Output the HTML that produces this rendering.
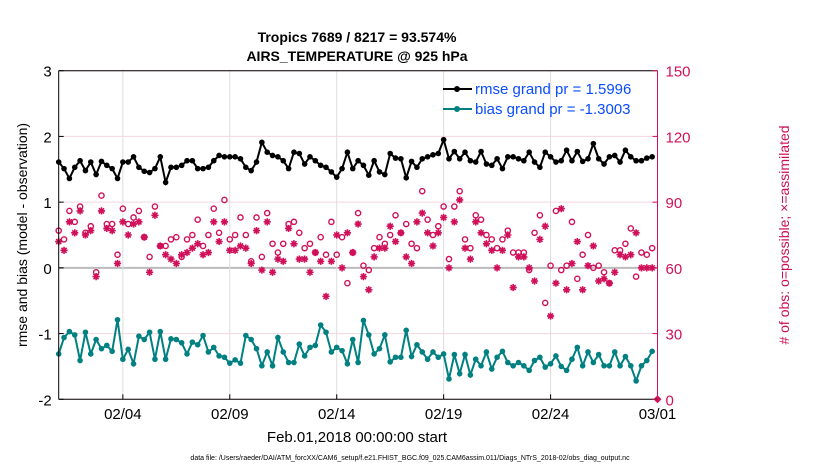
<!DOCTYPE html>
<html><head><meta charset="utf-8"><style>
body{margin:0;background:#fff;width:830px;height:470px;overflow:hidden}
svg text{font-family:"Liberation Sans",Arial,sans-serif}
</style></head><body>
<svg id="chart" width="830" height="470" xmlns="http://www.w3.org/2000/svg">
<g id="grid"></g>
<g id="marks"></g>
<g id="axes"></g>
<text x="357" y="42" font-size="14" font-weight="bold" text-anchor="middle">Tropics 7689 / 8217 = 93.574%</text>
<text x="357" y="61" font-size="14" font-weight="bold" text-anchor="middle">AIRS_TEMPERATURE @ 925 hPa</text>
<text transform="translate(27,235) rotate(-90)" font-size="14" text-anchor="middle">rmse and bias (model - observation)</text>
<text transform="translate(789,235) rotate(-90)" font-size="14" fill="#cc0f55" text-anchor="middle"># of obs: o=possible; ×=assimilated</text>
<text x="357" y="442" font-size="15" text-anchor="middle">Feb.01,2018 00:00:00 start</text>
<text x="410" y="460" font-size="7" text-anchor="middle">data file: /Users/raeder/DAI/ATM_forcXX/CAM6_setup/f.e21.FHIST_BGC.f09_025.CAM6assim.011/Diags_NTrS_2018-02/obs_diag_output.nc</text>
<g>
<line x1="443" y1="89" x2="472" y2="89" stroke="#000" stroke-width="2"/><circle cx="457" cy="89" r="3" fill="#000"/>
<text x="475" y="94" font-size="15" fill="#0a4cff">rmse grand pr = 1.5996</text>
<line x1="443" y1="109" x2="472" y2="109" stroke="#008080" stroke-width="2"/><circle cx="457" cy="109" r="3" fill="#008080"/>
<text x="475" y="114" font-size="15" fill="#0a4cff">bias grand pr = -1.3003</text>
</g>
</svg>
<script>
const rmse=[1.61,1.51,1.36,1.53,1.63,1.48,1.61,1.42,1.62,1.56,1.51,1.36,1.61,1.61,1.69,1.53,1.47,1.45,1.51,1.69,1.30,1.53,1.53,1.56,1.63,1.63,1.51,1.51,1.53,
1.63,1.71,1.69,1.69,1.69,1.66,1.53,1.48,1.61,1.91,1.76,1.71,1.69,1.63,1.51,1.76,1.74,1.58,1.69,1.63,1.56,1.53,1.46,1.38,1.51,1.76,1.51,
1.63,1.56,1.41,1.63,1.46,1.42,1.74,1.67,1.66,1.37,1.62,1.53,1.66,1.69,1.72,1.74,1.95,1.66,1.77,1.66,1.76,1.63,1.61,1.77,1.58,1.56,1.66,1.51,
1.69,1.69,1.66,1.63,1.76,1.61,1.53,1.76,1.69,1.61,1.63,1.79,1.63,1.77,1.62,1.66,1.89,1.66,1.58,1.69,1.71,1.61,1.79,1.69,1.63,1.63,1.67,1.69];
const bias=[-1.31,-1.06,-0.97,-1.02,-1.41,-0.98,-1.31,-1.09,-1.23,-1.18,-1.27,-0.79,-1.39,-1.24,-1.46,-1.04,-1.09,-0.98,-1.39,-0.97,-1.39,-1.08,-1.09,-1.14,-1.31,-1.13,-1.17,-1.03,-1.28,
-1.21,-1.34,-1.36,-1.45,-1.40,-1.45,-1.03,-1.09,-1.23,-1.49,-1.28,-1.49,-1.06,-1.28,-1.44,-1.44,-1.16,-1.34,-1.21,-1.18,-0.87,-0.98,-1.28,-1.21,-1.26,-1.46,-1.09,
-1.44,-0.80,-1.02,-1.31,-1.23,-1.02,-1.43,-1.36,-1.36,-0.95,-1.35,-1.17,-1.28,-1.39,-1.28,-1.36,-1.31,-1.69,-1.32,-1.61,-1.32,-1.63,-1.39,-1.49,-1.28,-1.54,-1.36,-1.27,
-1.44,-1.49,-1.44,-1.49,-1.56,-1.41,-1.36,-1.51,-1.46,-1.34,-1.50,-1.56,-1.39,-1.21,-1.49,-1.28,-1.44,-1.32,-1.49,-1.49,-1.28,-1.49,-1.35,-1.49,-1.72,-1.49,-1.41,-1.27];
const obsPossible=[77,73,86,81,88,76,79,58,93,80,80,66,87,80,83,86,74,65,88,70,70,73,74,65,73,75,82,70,75,
87,76,91,73,75,83,75,63,83,65,85,71,67,71,80,81,76,69,71,67,74,66,81,66,74,53,67,
85,61,59,69,74,71,75,84,76,80,71,69,95,82,75,79,88,64,88,95,73,69,84,82,75,73,69,73,
77,67,67,67,59,76,84,44,61,86,59,61,81,55,66,75,60,61,58,53,68,68,71,78,56,67,66,69];
const obsAssim=[72,68,81,76,86,75,77,56,86,78,77,62,81,75,80,81,74,58,84,70,66,64,62,66,67,69,71,66,67,
81,72,81,68,68,70,69,62,77,59,81,58,64,63,78,71,64,64,58,67,63,47,63,75,60,76,67,
80,56,50,65,69,69,79,72,76,65,62,81,85,76,70,76,83,60,81,91,69,64,81,76,71,68,60,68,
75,51,65,65,60,54,73,79,38,53,87,50,62,72,50,61,70,54,55,53,58,66,65,66,76,60,60,60];
const xTickDays=[3,8,13,18,23,28];
const xTickLabels=["02/04","02/09","02/14","02/19","02/24","03/01"];
const yTicks=[-2,-1,0,1,2,3];
const yRightTicks=[0,30,60,90,120,150];

const NS="http://www.w3.org/2000/svg";
const L=58.7,R=657.5,T=70.7,B=399.3;
const xDay=d=>L+(R-L)*d/28;
const xIdx=i=>xDay(i*0.25);
const yL=v=>B-(v+2)/5*(B-T);
const yR=c=>B-c/150*(B-T);
function mk(tag,attrs,parent){const e=document.createElementNS(NS,tag);for(const k in attrs)e.setAttribute(k,attrs[k]);parent.appendChild(e);return e;}
const grid=document.getElementById('grid'),marks=document.getElementById('marks'),axes=document.getElementById('axes');
yTicks.forEach(v=>{const l=mk('line',{x1:L,x2:R,y1:yL(v),y2:yL(v),stroke:v===0?'#bbb':'#f3d6e0','stroke-width':v===0?2:1},grid);

});
xTickDays.forEach((d,i)=>{const l=mk('line',{x1:xDay(d),x2:xDay(d),y1:T,y2:B,stroke:'#ddd','stroke-width':1},grid);


const t=mk('text',{x:xDay(d),y:419,'font-size':15,'text-anchor':'middle'},axes);t.textContent=xTickLabels[i];


mk('line',{x1:xDay(d),x2:xDay(d),y1:B,y2:B-5,stroke:'#000'},axes);});
// obs markers
obsPossible.forEach((c,i)=>{const e=mk('circle',{cx:xIdx(i),cy:yR(c),r:2.6,fill:'none',stroke:'#d0105a','stroke-width':1.4},marks);

});
obsAssim.forEach((c,i)=>{const x=xIdx(i),y=yR(c),r=3.6,q=r*0.707;
const s=mk('path',{d:`M${x-r} ${y}H${x+r}M${x} ${y-r}V${y+r}M${x-q} ${y-q}L${x+q} ${y+q}M${x-q} ${y+q}L${x+q} ${y-q}`,stroke:'#d0105a','stroke-width':1.6,fill:'none'},marks);

});
function series(vals,color,name){const p=mk('polyline',{points:vals.map((v,i)=>xIdx(i)+','+yL(v)).join(' '),fill:'none',stroke:color,'stroke-width':2},marks);


vals.forEach((v,i)=>{const c=mk('circle',{cx:xIdx(i),cy:yL(v),r:2.8,fill:color},marks);

});}
series(rmse,'#000','rmse');
series(bias,'#008080','bias');
const dm=mk('path',{d:`M${R} ${B-4} L${R+4} ${B} L${R} ${B+4} L${R-4} ${B} Z`,fill:'#d0105a'},marks);


// frame
mk('line',{x1:L,x2:R,y1:T,y2:T,stroke:'#000'},axes);
mk('line',{x1:L,x2:R,y1:B,y2:B,stroke:'#000'},axes);
mk('line',{x1:L,x2:L,y1:T,y2:B,stroke:'#000'},axes);
mk('line',{x1:R,x2:R,y1:T,y2:B,stroke:'#d0105a'},axes);
yTicks.forEach(v=>{mk('line',{x1:L,x2:L+5,y1:yL(v),y2:yL(v),stroke:'#000'},axes);
const t=mk('text',{x:L-7,y:yL(v)+6,'font-size':15,'text-anchor':'end'},axes);t.textContent=v;

});
yRightTicks.forEach(c=>{mk('line',{x1:R-5,x2:R,y1:yR(c),y2:yR(c),stroke:'#d0105a'},axes);
const t=mk('text',{x:R+8,y:yR(c)+6,'font-size':15,fill:'#d0105a'},axes);t.textContent=c;

});
</script>
</body></html>
